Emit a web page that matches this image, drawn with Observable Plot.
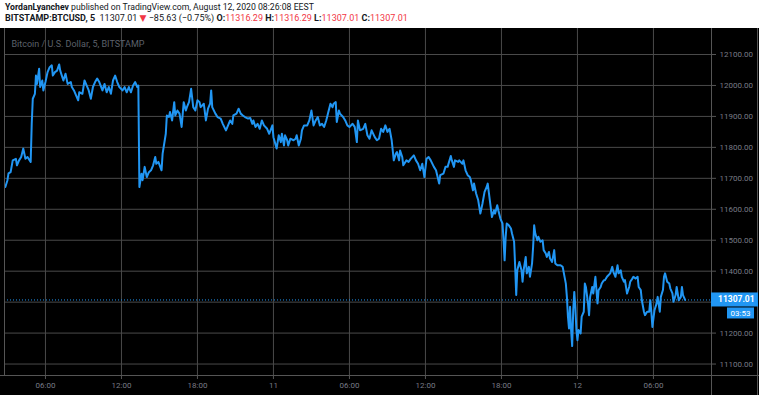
<!DOCTYPE html>
<html><head><meta charset="utf-8">
<script src="https://cdn.jsdelivr.net/npm/d3@7"></script>
<script src="https://cdn.jsdelivr.net/npm/@observablehq/plot@0.6"></script>
<style>
html,body{margin:0;padding:0;background:#000;width:759px;height:395px;overflow:hidden}
#hdr{background:#fff;height:28px;position:relative;font-family:Roboto,"DejaVu Sans",sans-serif;font-size:9px;color:#131722;white-space:nowrap}
#l1{position:absolute;left:5px;top:2px;font-size:8.7px}
#l2{position:absolute;left:5px;top:13px}
.b{font-weight:bold}
.r{color:#f23645}
#chart svg{display:block}
</style></head>
<body>
<div id="hdr"><div id="l1"></div><div id="l2"></div></div>
<div id="chart"></div>
<script>
// ---- data ----
const author = "YordanLyanchev";
const published = "published on TradingView.com, August 12, 2020 08:26:08 EEST";
const symbol = "BITSTAMP:BTCUSD, 5";
const lastPrice = 11307.01;
const change = "−85.63 (−0.75%)";
const ohlcLabels = ["O:", "H:", "L:", "C:"];
const ohlcValues = ["11316.29", "11316.29", "11307.01", "11307.01"];
const chartTitle = "Bitcoin / U.S. Dollar, 5, BITSTAMP";
const countdown = "03:53";
const yGrid = [11100, 11200, 11300, 11400, 11500, 11600, 11700, 11800, 11900, 12000, 12100];
// 11300.00 is hidden behind the last-price label in the picture
const yTickLabels = [11100, 11200, 11400, 11500, 11600, 11700, 11800, 11900, 12000, 12100];
// tick times: minutes since 2020-08-10 00:00 (chart local time)
const xTickMinutes = [360, 720, 1080, 1440, 1800, 2160, 2520, 2880, 3240];
const xTickLabels = ["06:00", "12:00", "18:00", "11", "06:00", "12:00", "18:00", "12", "06:00"];
const xDomainMinutes = [166, 3515];
const yDomain = [11063, 12184];
// [minutes since 2020-08-10 00:00, price]
const btc = [
[170,11672],[180,11694],[185,11716],[195,11720],[205,11758],[220,11763],[225,11742],[235,11758],[245,11769],[255,11796],
[265,11763],[275,11769],[290,11753],[295,11876],[300,11957],[310,11973],[315,12032],[320,12005],[330,12054],[335,11995],
[345,12016],[350,11984],[360,12011],[370,12043],[380,12059],[390,12065],[395,12032],[405,12043],[415,12048],[425,12068],
[430,12048],[445,12016],[455,12038],[465,12005],[480,12011],[485,11995],[495,11984],[505,11968],[515,11952],[520,11978],
[535,11973],[545,12016],[555,12000],[565,11984],[575,11957],[585,11995],[595,12011],[605,12022],[615,12011],[630,11984],
[640,12005],[650,11978],[660,11995],[670,11973],[680,12016],[690,12032],[700,12011],[710,11995],[725,11984],[735,11995],
[745,11978],[755,11995],[765,11978],[775,12000],[785,12011],[795,11995],[800,12000],[805,11672],[815,11715],[820,11694],
[830,11737],[840,11704],[850,11720],[860,11726],[870,11742],[880,11769],[885,11747],[895,11753],[910,11726],[915,11780],
[930,11844],[935,11903],[945,11898],[950,11914],[960,11887],[970,11946],[975,11903],[985,11919],[995,11909],[1005,11866],
[1015,11946],[1025,11919],[1030,11930],[1040,11946],[1050,11989],[1060,11930],[1070,11919],[1080,11952],[1090,11946],[1095,11930],
[1110,11941],[1120,11887],[1130,11925],[1140,11941],[1145,11984],[1150,11930],[1165,11909],[1175,11898],[1190,11893],[1200,11876],
[1215,11855],[1225,11871],[1235,11887],[1245,11876],[1250,11903],[1265,11909],[1275,11925],[1285,11909],[1295,11903],[1305,11898],
[1320,11893],[1330,11895],[1340,11876],[1345,11887],[1355,11866],[1365,11876],[1375,11860],[1385,11887],[1395,11871],[1410,11860],
[1420,11844],[1435,11871],[1440,11833],[1455,11796],[1465,11839],[1475,11817],[1480,11844],[1490,11806],[1495,11839],[1505,11823],
[1510,11806],[1520,11828],[1535,11823],[1545,11828],[1550,11839],[1560,11806],[1570,11828],[1575,11855],[1585,11871],[1600,11871],
[1610,11887],[1620,11919],[1630,11871],[1640,11887],[1650,11898],[1660,11871],[1670,11876],[1680,11866],[1690,11887],[1700,11914],
[1710,11941],[1720,11930],[1725,11941],[1735,11946],[1740,11882],[1750,11919],[1755,11909],[1770,11898],[1780,11887],[1790,11871],
[1800,11866],[1815,11876],[1825,11866],[1835,11817],[1840,11887],[1850,11855],[1865,11860],[1875,11876],[1885,11839],[1895,11828],
[1905,11855],[1920,11833],[1930,11823],[1940,11828],[1950,11860],[1960,11850],[1970,11871],[1980,11850],[1990,11860],[2000,11823],
[2010,11758],[2020,11780],[2025,11785],[2035,11758],[2040,11790],[2050,11769],[2055,11742],[2070,11758],[2080,11753],[2090,11763],
[2105,11774],[2115,11758],[2125,11747],[2135,11726],[2145,11747],[2155,11704],[2165,11763],[2175,11769],[2185,11758],[2200,11737],
[2210,11726],[2225,11683],[2230,11710],[2245,11715],[2255,11737],[2265,11737],[2280,11772],[2285,11758],[2295,11737],[2300,11758],
[2315,11753],[2320,11758],[2335,11747],[2340,11758],[2350,11726],[2360,11710],[2370,11704],[2375,11694],[2385,11661],[2390,11683],
[2400,11651],[2410,11629],[2420,11586],[2430,11618],[2440,11656],[2450,11672],[2455,11683],[2465,11629],[2475,11575],[2485,11597],
[2490,11586],[2500,11613],[2505,11597],[2515,11570],[2525,11554],[2530,11500],[2535,11435],[2540,11511],[2545,11554],[2555,11548],
[2565,11538],[2570,11522],[2580,11495],[2585,11414],[2590,11323],[2595,11403],[2605,11430],[2615,11403],[2620,11366],[2625,11403],
[2635,11446],[2640,11393],[2650,11414],[2655,11382],[2665,11425],[2670,11478],[2675,11548],[2680,11522],[2690,11500],[2695,11511],
[2705,11495],[2715,11500],[2720,11468],[2730,11457],[2735,11446],[2745,11462],[2750,11441],[2760,11430],[2770,11468],[2775,11425],
[2785,11419],[2800,11419],[2810,11414],[2825,11360],[2830,11317],[2835,11253],[2840,11215],[2845,11285],[2850,11210],[2855,11158],
[2860,11274],[2865,11333],[2870,11285],[2875,11210],[2880,11177],[2885,11210],[2895,11199],[2900,11253],[2910,11269],[2915,11360],
[2920,11349],[2930,11296],[2935,11258],[2940,11317],[2950,11349],[2955,11328],[2965,11382],[2975,11296],[2980,11339],[2990,11349],
[2995,11360],[3005,11371],[3010,11371],[3020,11382],[3035,11393],[3045,11414],[3050,11398],[3060,11382],[3070,11419],[3075,11393],
[3085,11403],[3090,11382],[3100,11366],[3105,11371],[3115,11328],[3125,11349],[3130,11366],[3140,11376],[3145,11382],[3155,11376],
[3165,11382],[3170,11349],[3180,11339],[3185,11306],[3195,11269],[3200,11258],[3210,11269],[3220,11269],[3225,11306],[3230,11269],
[3235,11220],[3245,11274],[3255,11296],[3260,11317],[3270,11269],[3275,11317],[3285,11339],[3290,11382],[3295,11393],[3305,11366],
[3315,11360],[3320,11344],[3330,11328],[3335,11301],[3345,11323],[3350,11349],[3360,11306],[3370,11317],[3375,11349],[3380,11323],
[3390,11307.01]
];

// ---- header ----
document.getElementById("l1").innerHTML = `<span class="b">${author}</span> ${published}`;
document.getElementById("l2").innerHTML = `<span class="b">${symbol}</span>&nbsp; ${lastPrice.toFixed(2)} <span class="r">▼</span> ${change} ` +
  ohlcLabels.map((l, i) => `<span class="b">${l}</span><span class="r">${ohlcValues[i]}</span>`).join(" ");

// ---- chart ----
const base = Date.UTC(2020, 7, 10);
const toDate = m => new Date(base + m * 60000);
const data = btc.map(([m, p]) => ({t: toDate(m), p}));
const xTicks = xTickMinutes.map(toDate);
const labelOf = new Map(xTicks.map((d, i) => [+d, xTickLabels[i]]));
const W = 759, H = 367, mL = 4, mR = 48, mB = 20;
const grid = "#4a4a4a";
const blue = "#2196f3";

const chart = Plot.plot({
  width: W, height: H,
  marginLeft: mL, marginRight: mR, marginTop: 0, marginBottom: mB,
  style: {background: "#000", color: "#787b86", fontFamily: "Roboto, sans-serif", fontSize: "8px", overflow: "visible"},
  x: {type: "utc", domain: xDomainMinutes.map(toDate)},
  y: {domain: yDomain},
  marks: [
    Plot.ruleX(xTicks, {stroke: grid}),
    Plot.ruleY(yGrid, {stroke: grid}),
    Plot.text([chartTitle], {frameAnchor: "top-left", dx: 7, dy: 12, fill: "#5d606b", fontSize: 9, textAnchor: "start"}),
    Plot.ruleY([lastPrice], {stroke: blue, strokeDasharray: "1,2"}),
    Plot.line(data, {x: "t", y: "p", stroke: blue, strokeWidth: 2}),
    Plot.axisY({anchor: "right", ticks: yTickLabels, tickFormat: d => d.toFixed(2), tickSize: 4, tickPadding: 4, stroke: "#555", fill: "#787b86", label: null}),
    Plot.axisX({ticks: xTicks, tickFormat: d => labelOf.get(+d), tickSize: 4, tickPadding: 3, stroke: "#555", fill: "#787b86", label: null})
  ]
});
document.getElementById("chart").appendChild(chart);

// frame lines and price labels
const svg = d3.select(chart);
const xr = W - mR;
const yb = H - mB;
const fr = svg.append("g").attr("stroke", "#555").attr("shape-rendering", "crispEdges");
fr.append("line").attr("x1", xr + 0.5).attr("x2", xr + 0.5).attr("y1", 0).attr("y2", H);
fr.append("line").attr("x1", 0).attr("x2", W).attr("y1", yb + 0.5).attr("y2", yb + 0.5);
fr.append("line").attr("x1", mL + 0.5).attr("x2", mL + 0.5).attr("y1", 0).attr("y2", yb);
fr.append("line").attr("x1", W - 1.5).attr("x2", W - 1.5).attr("y1", 0).attr("y2", H);

const yp = chart.scale("y").apply(lastPrice);
const g = svg.append("g").attr("font-family", "Roboto, sans-serif").attr("font-size", 8.5).attr("text-anchor", "start");
g.append("rect").attr("x", xr).attr("y", yp - 7).attr("width", W - xr - 1).attr("height", 14).attr("fill", blue);
g.append("text").attr("x", xr + 7).attr("y", yp).attr("dy", "0.35em").attr("fill", "#fff").attr("font-weight", "bold").text(lastPrice.toFixed(2));
g.append("rect").attr("x", xr + 16).attr("y", yp + 8).attr("width", 27).attr("height", 11).attr("fill", blue);
g.append("text").attr("x", xr + 29.5).attr("y", yp + 13.5).attr("dy", "0.35em").attr("text-anchor", "middle").attr("fill", "#fff").attr("font-size", 8).text(countdown);
</script>
</body></html>
